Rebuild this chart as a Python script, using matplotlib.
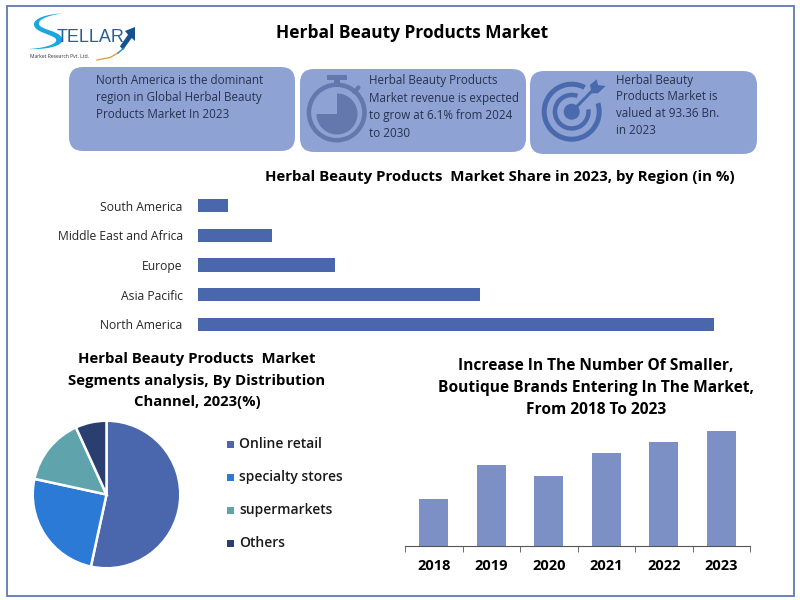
import matplotlib
matplotlib.use("Agg")
import matplotlib.pyplot as plt
from matplotlib.patches import FancyBboxPatch, Rectangle, Circle, Wedge, Polygon, PathPatch
from matplotlib.path import Path

plt.rcParams['font.family'] = ['Open Sans', 'DejaVu Sans']

regions = ["North America", "Asia Pacific", "Europe", "Middle East and Africa", "South America"]
region_share = [50, 27.3, 13.3, 7.2, 2.9]
channels = ["Online retail", "specialty stores", "supermarkets", "Others"]
channel_share = [53.4, 25, 14.8, 6.8]
channel_colors = ["#4A66AC", "#2A7AD6", "#5FA3AD", "#2A3F70"]
years = ["2018", "2019", "2020", "2021", "2022", "2023"]
brand_growth = [47, 81, 70, 93, 104, 115]

W, H = 800, 600
fig = plt.figure(figsize=(8, 6), dpi=100, facecolor="white")

def ax_px(x0, y0, x1, y1):
    return fig.add_axes([x0 / W, 1 - y1 / H, (x1 - x0) / W, (y1 - y0) / H])

bg = fig.add_axes([0, 0, 1, 1])
bg.set_xlim(0, W); bg.set_ylim(H, 0); bg.axis("off")
bg.add_patch(Rectangle((7, 6), 787, 589.5, fill=False, ec="#5F78B0", lw=1.3))

BOX = "#8FA2D4"
for x0, y0, x1, y1 in [(69, 67, 295, 151), (300, 69, 526, 152), (530, 71, 757, 154)]:
    bg.add_patch(FancyBboxPatch((x0 + 14, y0 + 14), x1 - x0 - 28, y1 - y0 - 28,
                                boxstyle="round,pad=14,rounding_size=14", fc=BOX, ec="none"))

# stopwatch
SW = "#6478AE"
bg.add_patch(Wedge((336.7, 112.5), 30, 0, 360, width=4.5, fc=SW, ec="none"))
bg.add_patch(Wedge((337, 114), 20.5, 270, 180, fc=SW, ec="none"))
bg.add_patch(Rectangle((326.5, 75), 20, 4.5, fc=SW, ec="none"))
bg.add_patch(Rectangle((334, 79), 5.5, 5, fc=SW, ec="none"))
bg.plot([354, 358.5], [92, 87.5], color=SW, lw=3, solid_capstyle="round")

# target
TG = "#4A6AAE"
c = (571.7, 111.7)
bg.add_patch(Wedge(c, 30, -18, 298, width=5, fc=TG, ec="none"))
bg.add_patch(Wedge(c, 19, -8, 290, width=4.5, fc=TG, ec="none"))
bg.add_patch(Circle(c, 8, fc=TG, ec="none"))
bg.plot([c[0], 592], [c[1], 91], color=TG, lw=2.2)
bg.add_patch(Polygon([(590, 85), (596.7, 79.3), (598, 85), (605.7, 86), (598, 93.3), (591.7, 93.3)],
                     fc=TG, ec="none"))

# logo
bg.add_patch(PathPatch(Path([(62, 13.5), (48, 14), (33, 18), (34, 25),
                             (35, 32), (50, 34), (55, 38),
                             (60, 42), (50, 48), (28, 49),
                             (45, 50), (66, 46), (62, 38),
                             (58, 30), (40, 30), (39, 24),
                             (38, 19), (50, 15), (62, 13.5)],
                            [Path.MOVETO] + [Path.CURVE4] * 18), fc="#1AA7E0", ec="none"))
bg.text(57, 37, "TELLAR", fontsize=13, color="#2A5E97", ha="left", va="center",
        family="Liberation Sans")
bg.add_patch(Polygon([(120, 46.3), (128, 34.7), (125, 31), (135, 27), (135, 41), (131.7, 38), (123, 50)],
                     fc="#15508F", ec="none"))
bg.plot([97, 110, 118], [60, 57.5, 53], color="#E0A040", lw=1)
bg.plot([118, 124], [53, 48], color="#1A8FC0", lw=1)
bg.text(30.5, 56.5, "Market Research Pvt. Ltd.", fontsize=3.6, color="#333333", ha="left", va="center")

bg.text(412.5, 33, "Herbal Beauty Products Market", fontsize=12.5, fontweight="bold",
        ha="center", va="center", color="black")

TXT = "#26324F"
for x, y, s in [(96, 80, "North America is the dominant"), (96, 98, "region in Global Herbal Beauty"),
                (96, 115, "Products Market In 2023"),
                (369, 80.5, "Herbal Beauty Products"), (369, 98.5, "Market revenue is expected"),
                (369, 115.5, "to grow at 6.1% from 2024"), (369, 133.5, "to 2030"),
                (616, 80.5, "Herbal Beauty"), (616, 97, "Products Market is"),
                (616, 113.5, "valued at 93.36 Bn."), (616, 130, "in 2023")]:
    bg.text(x, y, s, fontsize=8.4, ha="left", va="center", color=TXT)

bg.text(500, 177.5, "Herbal Beauty Products  Market Share in 2023, by Region (in %)", fontsize=10.8,
        fontweight="bold", ha="center", va="center", color="black")
for y, s in [(359, "Herbal Beauty Products  Market"), (381, "Segments analysis, By Distribution"),
             (402, "Channel, 2023(%)")]:
    bg.text(197, y, s, fontsize=10.7, fontweight="bold", ha="center", va="center", color="black")
for y, s in [(365.5, "Increase In The Number Of Smaller,"), (387.5, "Boutique Brands Entering In The Market,"),
             (409.5, "From 2018 To 2023")]:
    bg.text(596, y, s, fontsize=11.2, fontweight="bold", ha="center", va="center", color="black")

# region bars
ax = ax_px(198, 191, 714, 339)
ax.barh(regions, region_share, height=0.45, color="#4A66AC")
ax.set_xlim(0, 50); ax.set_ylim(-0.5, 4.5)
ax.xaxis.set_visible(False)
ax.tick_params(axis="y", length=0, labelsize=8.7, labelcolor="#262626", pad=11)
for s in ax.spines.values():
    s.set_visible(False)
ax.patch.set_alpha(0)

# pie
pax = ax_px(32, 420, 181, 569)
wedges, _ = pax.pie(channel_share, colors=channel_colors, startangle=90, counterclock=False,
                    radius=1.0, wedgeprops=dict(edgecolor="white", linewidth=1.8))
pax.set_xlim(-1.01, 1.01); pax.set_ylim(-1.01, 1.01)
for i, (lab, col) in enumerate(zip(channels, channel_colors)):
    y = 444 + i * 33
    bg.add_patch(Rectangle((227, y - 3.5), 7, 7, fc=col, ec="none"))
    bg.text(239, y, lab, fontsize=10, fontweight="semibold", ha="left", va="center", color="#1a1a1a")

# year bars
bax = ax_px(405, 425, 750, 546)
bax.bar(years, brand_growth, width=0.5, color="#7C90C6")
bax.set_xlim(-0.5, 5.5); bax.set_ylim(0, 121)
bax.yaxis.set_visible(False)
for k in ("top", "left", "right"):
    bax.spines[k].set_visible(False)
bax.spines["bottom"].set_color("#555555")
bax.set_xticks([i - 0.5 for i in range(7)], minor=True)
bax.tick_params(axis="x", which="minor", length=4, color="#555555", direction="out")
bax.tick_params(axis="x", which="major", length=0, labelsize=10.5, pad=9.5)
for t in bax.get_xticklabels():
    t.set_fontweight("bold")
bax.patch.set_alpha(0)

fig.savefig("out.png", dpi=100)
